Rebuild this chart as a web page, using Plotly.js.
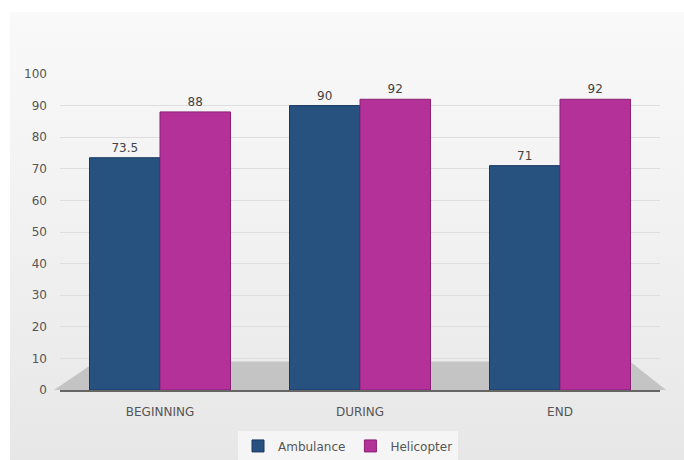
<!DOCTYPE html>
<html>
<head>
<meta charset="utf-8">
<script src="https://cdn.plot.ly/plotly-3.0.1.min.js"></script>
<style>
  html, body { margin: 0; padding: 0; background: #ffffff; }
  #panel { position: absolute; left: 10px; top: 12px; width: 674px; height: 448px;
           background: linear-gradient(to bottom, #f9f9f9 0%, #f1f1f1 50%, #e7e7e7 100%); }
  #chart { position: absolute; left: 0; top: 0; width: 684px; height: 460px; }
</style>
</head>
<body>
<div id="panel"></div>
<div id="chart"></div>
<script>
const categories = ["BEGINNING", "DURING", "END"];
const ambulance = [73.5, 90, 71];
const helicopter = [88, 92, 92];
const seriesNames = ["Ambulance", "Helicopter"];
const yTicks = [0, 10, 20, 30, 40, 50, 60, 70, 80, 90, 100];

const fontFamily = "'DejaVu Sans', Lato, sans-serif";

const traces = [
  {
    type: "bar", name: seriesNames[0], x: categories, y: ambulance,
    text: ambulance.map(String), textposition: "outside", cliponaxis: false,
    textfont: {family: fontFamily, size: 12, color: "#444"},
    marker: {color: "#27517f", line: {color: "#1a3760", width: 1}}
  },
  {
    type: "bar", name: seriesNames[1], x: categories, y: helicopter,
    text: helicopter.map(String), textposition: "outside", cliponaxis: false,
    textfont: {family: fontFamily, size: 12, color: "#444"},
    marker: {color: "#b5319a", line: {color: "#8a1f74", width: 1}}
  }
];

const layout = {
  width: 684, height: 460,
  margin: {l: 60, r: 24, t: 74, b: 70, autoexpand: false},
  paper_bgcolor: "rgba(0,0,0,0)",
  plot_bgcolor: "rgba(0,0,0,0)",
  font: {family: fontFamily, color: "#555", size: 12},
  barmode: "group",
  bargap: 0.295,
  bargroupgap: 0,
  showlegend: true,
  legend: {
    orientation: "h", x: 0.48, xanchor: "center", y: -0.177, yanchor: "middle",
    bgcolor: "rgba(246,246,246,0.9)", font: {size: 12, color: "#555"},
    traceorder: "normal", itemwidth: 30
  },
  xaxis: {
    showline: true, linecolor: "#666", linewidth: 1.5,
    ticks: "", tickfont: {size: 12, color: "#555"}, ticklabelstandoff: 10,
    showgrid: false, zeroline: false, fixedrange: true
  },
  yaxis: {
    range: [0, 100], tickvals: yTicks, ticktext: yTicks.map(String),
    tickfont: {size: 12, color: "#555"}, ticklabelstandoff: 12,
    showgrid: true, gridcolor: "#dedede", gridwidth: 1,
    zeroline: false, showline: false, ticks: "", fixedrange: true
  },
  shapes: [
    {
      type: "path", xref: "paper", yref: "paper", layer: "below",
      path: "M -0.01,0 L 0.06,0.09 L 0.95,0.09 L 1.01,0 Z",
      fillcolor: "#c4c4c4", line: {width: 0}
    }
  ]
};

Plotly.newPlot("chart", traces, layout, {displayModeBar: false, staticPlot: true});
</script>
</body>
</html>
